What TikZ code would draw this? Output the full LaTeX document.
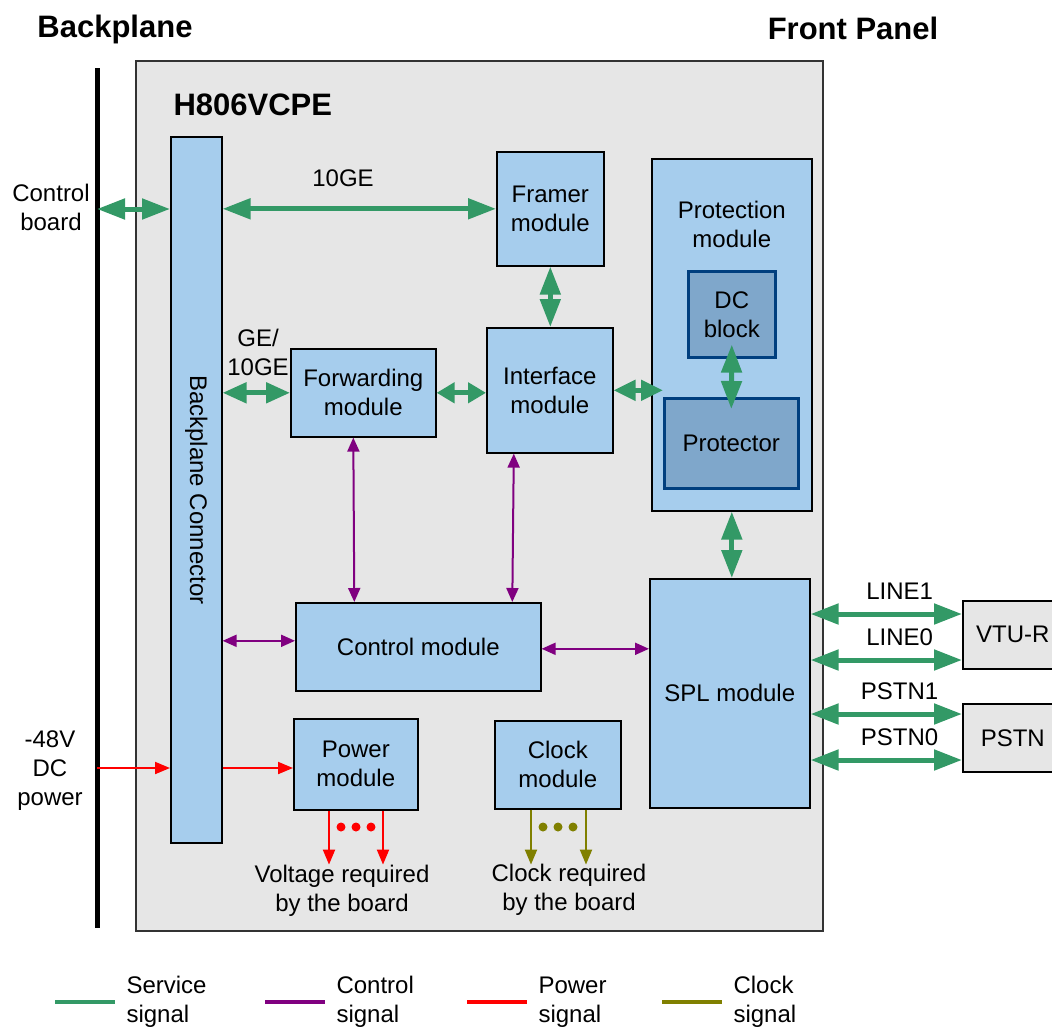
\documentclass[tikz,border=0pt]{standalone}
\usepackage{fontspec}
\setmainfont{Liberation Sans}
\usetikzlibrary{arrows.meta,positioning,calc}

\definecolor{blockblue}{HTML}{A6CDED}
\definecolor{innerblue}{HTML}{7FA7CB}
\definecolor{innerline}{HTML}{003F7F}
\definecolor{boardgray}{HTML}{E6E6E6}
\definecolor{svcgreen}{HTML}{339966}
\definecolor{ctlpurple}{HTML}{800080}
\definecolor{pwrred}{HTML}{FF0000}
\definecolor{clkolive}{HTML}{808000}

\begin{document}
\begin{tikzpicture}[
      x=1pt, y=-1pt,
      every node/.style={font=\fontsize{24}{29}\selectfont},
      title/.style={font=\fontsize{31}{36}\selectfont\bfseries},
      blk/.style={
        draw=black,
        line width=1.6pt,
        fill=blockblue,
        align=center,
        inner sep=0pt,
        anchor=north west
      },
      inblk/.style={blk, draw=innerline, fill=innerblue, line width=2.6pt},
      extblk/.style={blk, fill=boardgray},
      svc/.style={draw=svcgreen, line width=5pt,
        {Triangle[length=#1,width=20pt]}-{Triangle[length=#1,width=20pt]}},
      svc/.default=28pt,
      ctl/.style={draw=ctlpurple, line width=2pt,
        {Triangle[length=14pt,width=12pt]}-{Triangle[length=14pt,width=12pt]}},
      pwr/.style={draw=pwrred, line width=2pt, -{Triangle[length=15pt,width=12pt]}},
      clk/.style={draw=clkolive, line width=2pt, -{Triangle[length=15pt,width=12pt]}}
    ]

    \clip (0,0) rectangle (1052,1026);

    % Titles and backplane
    \node[title] (bptitle) at (115,29) {Backplane};
    \node[title] (fptitle) at (853,28) {Front Panel};
    \draw[line width=5pt] (97,68) coordinate (bptop) -- (97,928) coordinate (bpbot);

    % Board
    \node[extblk, draw=black!80, line width=1.5pt, minimum width=687pt, minimum height=870pt] (board) at (135,60) {};
    \node[title, anchor=west] (boardname) at (170,105) {H806VCPE};

    % Modules
    \node[blk, minimum width=51pt, minimum height=706pt] (conn) at (170,136) {};
    \node[rotate=-90] (connlabel) at (conn.center) {Backplane Connector};
    \node[blk, minimum width=107pt, minimum height=114pt] (framer) at (496,151) {Framer\\module};
    \node[blk, minimum width=160pt, minimum height=352pt] (protmod) at (651,158) {};
    \node[align=center, anchor=north] (protlabel) at ($(protmod.north)+(0,40)$) {Protection\\module};
    \node[inblk, minimum width=87pt, minimum height=86pt] (dc) at (687,270) {DC\\block};
    \node[inblk, minimum width=134pt, minimum height=90pt] (prot) at (663,397) {Protector};
    \node[blk, minimum width=145pt, minimum height=88pt] (fwd) at (290,348) {Forwarding\\module};
    \node[blk, minimum width=126pt, minimum height=125pt] (intf) at (486,327) {Interface\\module};
    \node[blk, minimum width=245pt, minimum height=88pt] (ctrl) at (295,602) {Control module};
    \node[blk, minimum width=160pt, minimum height=229pt] (spl) at (649,578) {SPL module};
    \node[blk, minimum width=124pt, minimum height=91pt] (power) at (293,718) {Power\\module};
    \node[blk, minimum width=126pt, minimum height=88pt] (clock) at (494,720) {Clock\\module};
    \node[extblk, minimum width=100pt, minimum height=68pt] (vtur) at (962,600) {VTU-R};
    \node[extblk, minimum width=100pt, minimum height=68pt] (pstn) at (962,703) {PSTN};

    % Service signals
    \coordinate (ctlboard) at (97,209);
    \node[align=center] (ctlboardlabel) at (51,207) {Control\\board};
    \draw[svc] (ctlboard) -- (conn.west |- ctlboard);
    \draw[svc] (conn.east |- framer.west) -- (framer.west);
    \node (tengelabel) at (343,178) {10GE};
    \draw[svc=24pt] (conn.east |- fwd.west) -- (fwd.west);
    \node[align=center] (gelabel) at (258,352) {GE/\\10GE};
    \draw[svc=18pt] (fwd.east) -- (fwd.east -| intf.west);
    \draw[svc] (framer.south) -- (framer.south |- intf.north);
    \draw[svc=22pt] (intf.east) -- (intf.east -| prot.west);
    \draw[svc] ($(dc.south)+(0,-14)$) -- ($(prot.north)+(0,12)$);
    \draw[svc] (protmod.south) -- (protmod.south |- spl.north);

    % Line side
    \foreach \dy/\lab in {36/LINE1, 82/LINE0, 136/PSTN1, 182/PSTN0} {
      \coordinate (lineout) at ($(spl.north east)+(0,\dy)$);
      \draw[svc] (lineout) -- (lineout -| vtur.west);
      \node at ($(lineout)+(89,-23)$) {\lab};
    }

    % Control signals
    \draw[ctl] ($(fwd.south)+(-10,0)$) -- ($(ctrl.north)+(-64,0)$);
    \draw[ctl] ($(intf.south)+(-36,0)$) -- ($(ctrl.north)+(94,0)$);
    \coordinate (ctlin) at ($(ctrl.west)+(0,-6)$);
    \draw[ctl] (conn.east |- ctlin) -- (ctlin);
    \coordinate (ctlout) at ($(ctrl.east)+(0,2)$);
    \draw[ctl] (ctlout) -- (ctlout -| spl.west);

    % Power signals
    \coordinate (pwrin) at (97,768);
    \node[align=center] (pwrlabel) at (50,771) {-48V\\DC\\power};
    \draw[pwr] (pwrin) -- (pwrin -| conn.west);
    \draw[pwr] (conn.east |- pwrin) -- (pwrin -| power.west);
    \draw[pwr] ($(power.south west)+(36,0)$) -- ++(0,54);
    \draw[pwr] ($(power.south west)+(90,0)$) -- ++(0,54);
    \foreach \x in {341,356,371} \fill[pwrred] (\x,827) circle (4.5pt);
    \node[align=center] (pwrout) at (342,891) {Voltage required\\by the board};

    % Clock signals
    \draw[clk] ($(clock.south west)+(37,0)$) -- ++(0,55);
    \draw[clk] ($(clock.south west)+(92,0)$) -- ++(0,55);
    \foreach \x in {543,558,573} \fill[clkolive] (\x,827) circle (4.5pt);
    \node[align=center] (clkout) at (569,890) {Clock required\\by the board};

    % Legend
    \foreach \x/\col/\lab in {55/svcgreen/Service, 265/ctlpurple/Control, 467/pwrred/Power, 662/clkolive/Clock} {
      \draw[\col, line width=4pt] (\x,1002) -- ++(60,0);
      \node[anchor=west, align=left] at (\x+68,1002) {\lab\\signal};
    }

    \end{tikzpicture}
\end{document}
